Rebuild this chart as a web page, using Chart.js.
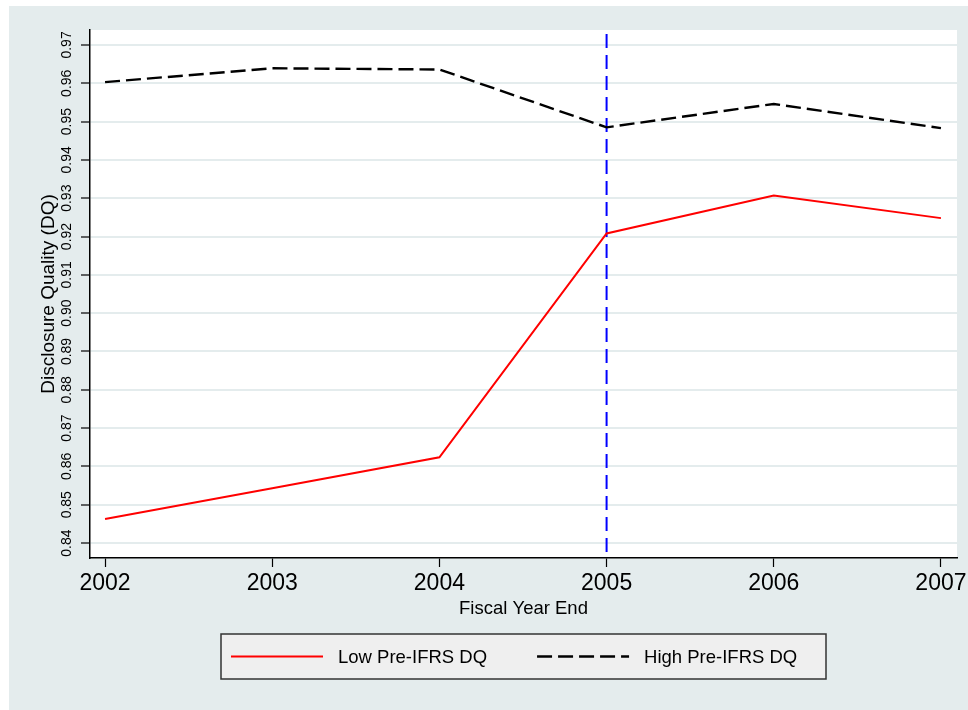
<!DOCTYPE html>
<html>
<head>
<meta charset="utf-8">
<script src="https://cdn.jsdelivr.net/npm/chart.js@4/dist/chart.umd.min.js"></script>
<style>
  html, body { margin: 0; padding: 0; background: #ffffff; }
  #wrap { width: 968px; height: 710px; position: relative; }
</style>
</head>
<body>
<div id="wrap"><canvas id="dqChart" width="968" height="710"></canvas></div>
<script>
// ============================================================================
// Data
// ============================================================================

const years = [2002, 2003, 2004, 2005, 2006, 2007];
const lowPreIfrsDQ = [0.8463, 0.8543, 0.8624, 0.9208, 0.9307, 0.9248];
const highPreIfrsDQ = [0.9603, 0.9639, 0.9636, 0.9485, 0.9546, 0.9483];
const yTickValues = [0.84, 0.85, 0.86, 0.87, 0.88, 0.89, 0.90, 0.91, 0.92, 0.93, 0.94, 0.95, 0.96, 0.97];
const ifrsYear = 2005;

const FONT = "'Liberation Sans', Arial, Helvetica, sans-serif";
const NARROW_FONT = "'Liberation Sans Narrow', 'Liberation Sans', Arial, sans-serif";
const PANEL_BG = "#e4eced";

/**
 * Stata-like grey-blue panel behind everything, white plot region
 */
const backgroundPlugin = {
    id: "panelBackground",
    beforeDraw(chart) {
        const { ctx, chartArea } = chart;
        ctx.save();
        ctx.fillStyle = "#ffffff";
        ctx.fillRect(0, 0, chart.width, chart.height);
        ctx.fillStyle = PANEL_BG;
        ctx.fillRect(9, 6, chart.width - 9, chart.height - 6);
        ctx.fillStyle = "#ffffff";
        ctx.fillRect(chartArea.left, chartArea.top, chartArea.right - chartArea.left, chartArea.bottom - chartArea.top);
        ctx.restore();
    },
};

/**
 * Vertical dashed reference line at the IFRS adoption year
 */
const referenceLinePlugin = {
    id: "ifrsLine",
    beforeDatasetsDraw(chart) {
        const { ctx, chartArea } = chart;
        const x = chart.scales.x.getPixelForValue(ifrsYear);
        ctx.save();
        ctx.strokeStyle = "#0000ff";
        ctx.lineWidth = 2;
        ctx.setLineDash([14, 7]);
        ctx.beginPath();
        ctx.moveTo(x, chartArea.top + 4);
        ctx.lineTo(x, chartArea.bottom);
        ctx.stroke();
        ctx.restore();
    },
};

/**
 * Boxed legend below the x axis title
 */
const boxedLegendPlugin = {
    id: "boxedLegend",
    afterDraw(chart) {
        const { ctx, chartArea } = chart;
        const boxWidth = 605;
        const boxHeight = 45;
        const left = (chartArea.left + chartArea.right) / 2 - boxWidth / 2;
        const top = chartArea.bottom + 76;
        const midY = top + boxHeight / 2;

        ctx.save();
        ctx.fillStyle = "#efefef";
        ctx.fillRect(left, top, boxWidth, boxHeight);
        ctx.strokeStyle = "#333333";
        ctx.lineWidth = 1.5;
        ctx.strokeRect(left, top, boxWidth, boxHeight);

        ctx.font = `18.5px ${FONT}`;
        ctx.textBaseline = "middle";
        ctx.textAlign = "left";

        let x = left + 10;
        chart.data.datasets.forEach((ds) => {
            ctx.strokeStyle = ds.borderColor;
            ctx.lineWidth = ds.borderWidth;
            ctx.setLineDash(ds.borderDash || []);
            ctx.beginPath();
            ctx.moveTo(x, midY);
            ctx.lineTo(x + 92, midY);
            ctx.stroke();
            x += 92 + 15;
            ctx.fillStyle = "#000000";
            ctx.fillText(ds.label, x, midY + 1);
            x += ctx.measureText(ds.label).width + 50;
        });
        ctx.restore();
    },
};

// ============================================================================
// Chart
// ============================================================================

const ctx = document.getElementById("dqChart").getContext("2d");

new Chart(ctx, {
    type: "line",
    data: {
        labels: years,
        datasets: [
            {
                label: "Low Pre-IFRS DQ",
                data: years.map((yr, i) => ({ x: yr, y: lowPreIfrsDQ[i] })),
                borderColor: "#ff0000",
                borderWidth: 2,
                pointRadius: 0,
                tension: 0,
            },
            {
                label: "High Pre-IFRS DQ",
                data: years.map((yr, i) => ({ x: yr, y: highPreIfrsDQ[i] })),
                borderColor: "#000000",
                borderWidth: 2.4,
                borderDash: [15, 6],
                pointRadius: 0,
                tension: 0,
            },
        ],
    },
    options: {
        responsive: false,
        animation: false,
        devicePixelRatio: 1,
        layout: { padding: { top: 30, right: 11, bottom: 82, left: 0 } },
        plugins: {
            legend: { display: false },
            tooltip: { enabled: false },
        },
        scales: {
            x: {
                type: "linear",
                min: 2001.91,
                max: 2007.096,
                afterBuildTicks: (scale) => {
                    scale.ticks = years.map((v) => ({ value: v }));
                },
                afterFit: (scale) => {
                    scale.height = 70;
                    scale.paddingLeft = 0;
                    scale.paddingRight = 0;
                },
                ticks: {
                    autoSkip: false,
                    maxRotation: 0,
                    padding: 3,
                    color: "#000000",
                    font: { family: FONT, size: 23 },
                    callback: (v) => String(v),
                },
                grid: {
                    drawOnChartArea: false,
                    drawTicks: true,
                    tickLength: 9,
                    tickColor: "#000000",
                    tickWidth: 1.2,
                },
                border: { display: true, color: "#000000", width: 1.5 },
                title: {
                    display: true,
                    text: "Fiscal Year End",
                    color: "#000000",
                    font: { family: FONT, size: 18.5 },
                    padding: { top: 0, bottom: 8 },
                },
            },
            y: {
                type: "linear",
                min: 0.8361,
                max: 0.9739,
                afterBuildTicks: (scale) => {
                    scale.ticks = yTickValues.map((v) => ({ value: v }));
                },
                afterFit: (scale) => {
                    scale.width = 90;
                    scale.paddingTop = 0;
                    scale.paddingBottom = 0;
                },
                ticks: {
                    autoSkip: false,
                    minRotation: 90,
                    maxRotation: 90,
                    crossAlign: "center",
                    padding: 0,
                    color: "#000000",
                    font: { family: NARROW_FONT, size: 14 },
                    callback: (v) => v.toFixed(2),
                },
                grid: {
                    color: PANEL_BG,
                    lineWidth: 2,
                    drawTicks: true,
                    tickLength: 9,
                    tickColor: "#000000",
                    tickWidth: 1.2,
                },
                border: { display: true, color: "#000000", width: 1.5 },
                title: {
                    display: true,
                    text: "Disclosure Quality (DQ)",
                    color: "#000000",
                    font: { family: FONT, size: 19 },
                    padding: { top: 37, bottom: 0 },
                },
            },
        },
    },
    plugins: [backgroundPlugin, referenceLinePlugin, boxedLegendPlugin],
});
</script>
</body>
</html>
